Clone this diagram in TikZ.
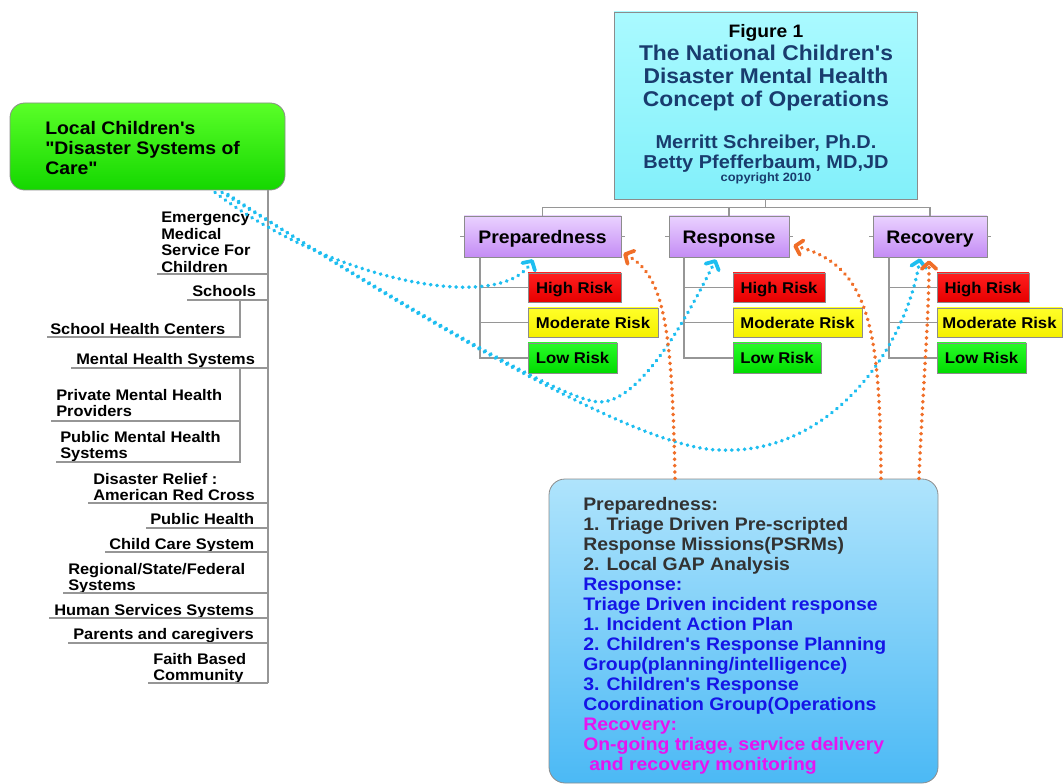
\documentclass[tikz,border=0pt]{standalone}
\usepackage{fontspec}
\newfontfamily\arl{Liberation Sans}[FakeStretch=1.07]
\usetikzlibrary{arrows.meta,calc}
\newcommand\pxu{0.75pt}
\newcommand\fnt[2]{\fontsize{#1}{#2}\arl\bfseries}
\definecolor{treegray}{RGB}{150,150,150}
\definecolor{boxgray}{RGB}{140,140,140}
\definecolor{greenTop}{RGB}{90,255,40}
\definecolor{greenBot}{RGB}{20,215,0}
\definecolor{cyanTop}{RGB}{170,250,255}
\definecolor{cyanBot}{RGB}{130,240,250}
\definecolor{navy}{RGB}{25,60,110}
\definecolor{purpTop}{RGB}{234,210,255}
\definecolor{purpBot}{RGB}{196,140,245}
\definecolor{redTop}{RGB}{255,30,30}
\definecolor{redBot}{RGB}{230,0,0}
\definecolor{yelTop}{RGB}{255,255,40}
\definecolor{yelBot}{RGB}{245,240,0}
\definecolor{lowTop}{RGB}{40,250,40}
\definecolor{lowBot}{RGB}{0,220,0}
\definecolor{skyTop}{RGB}{175,228,252}
\definecolor{skyBot}{RGB}{75,185,245}
\definecolor{pgray}{RGB}{50,50,50}
\definecolor{rblue}{RGB}{20,20,230}
\definecolor{rmag}{RGB}{230,20,240}
\definecolor{dotblue}{RGB}{30,190,240}
\definecolor{dotorange}{RGB}{240,110,40}
\begin{document}
\begin{tikzpicture}[x=0.75pt,y=-0.75pt,
  tree/.style={draw=treegray,line width=0.8pt},
  boxbase/.style={draw=boxgray,line width=0.6pt,inner sep=0pt,align=center},
  catbox/.style={boxbase,top color=purpTop,bottom color=purpBot,minimum height=41*\pxu,
     font=\fnt{13.6}{15},text height=9.8pt,text depth=0pt},
  riskbox/.style={boxbase,minimum height=29*\pxu,
     font=\fnt{11.7}{13},text height=8.4pt,text depth=0pt},
  highbox/.style={riskbox,top color=redTop,bottom color=redBot},
  modbox/.style={riskbox,top color=yelTop,bottom color=yelBot},
  lowbox/.style={riskbox,top color=lowTop,bottom color=lowBot,minimum height=30*\pxu},
  item/.style={anchor=north west,inner sep=0pt,align=left,font=\fnt{11.5}{12.4}},
  bluedot/.style={draw=dotblue,line width=2.8pt,line cap=round,dash pattern=on 0.2pt off 4.6pt,
     -{Straight Barb[length=5pt,width=11pt,round]}},
  orangedot/.style={draw=dotorange,line width=2.8pt,line cap=round,dash pattern=on 0.2pt off 4.6pt,
     -{Straight Barb[length=5pt,width=11pt,round]}},
  ttext/.style={anchor=north,inner sep=0pt,align=center}
]
\useasboundingbox (0,0) rectangle (1064,784);

% ---------- green box and left tree ----------
\node[draw=boxgray,line width=0.6pt,rounded corners=11pt,top color=greenTop,bottom color=greenBot,
  minimum width=275*\pxu,minimum height=87*\pxu] (green) at (147.5,146.5) {};
\node[anchor=north west,inner sep=0pt,align=left,font=\fnt{13.6}{15}] (greentext) at (45,121)
  {Local Children's\\"Disaster Systems of\\Care"};

\coordinate (spine) at (268,683);
\draw[tree] (green.south -| spine) -- (spine);

\node[item] (ems) at (161,212) {Emergency\\Medical\\Service For\\Children};
\node[item] (sch) at (192,285) {Schools};
\node[item] (shc) at (50,323) {School Health Centers};
\node[item] (mhs) at (76,353) {Mental Health Systems};
\node[item] (pmh) at (56,389) {Private Mental Health\\Providers};
\node[item] (pub) at (60,431) {Public Mental Health\\Systems};
\node[item] (drc) at (93,473) {Disaster Relief :\\American Red Cross};
\node[item] (phl) at (150,513) {Public Health};
\node[item] (ccs) at (109,538) {Child Care System};
\node[item] (rsf) at (68,563) {Regional/State/Federal\\Systems};
\node[item] (hss) at (54,604) {Human Services Systems};
\node[item] (pac) at (73,628) {Parents and caregivers};
\node[item] (fbc) at (153,653) {Faith Based\\Community};

\draw[tree] (157,274) -- (268,274);
\draw[tree] (187,300) -- (268,300);
\draw[tree] (240,300) -- (240,337) -- (47,337);
\draw[tree] (71,368) -- (268,368);
\draw[tree] (240,368) -- (240,462) -- (56,462);
\draw[tree] (51,421) -- (240,421);
\draw[tree] (88,503) -- (268,503);
\draw[tree] (146,528) -- (268,528);
\draw[tree] (105,552) -- (268,552);
\draw[tree] (63,593) -- (268,593);
\draw[tree] (49,618) -- (268,618);
\draw[tree] (68,643) -- (268,643);
\draw[tree] (148,683) -- (268,683);

% ---------- title box ----------
\node[draw=boxgray,line width=0.6pt,top color=cyanTop,bottom color=cyanBot,
  minimum width=303*\pxu,minimum height=187*\pxu] (title) at (765.5,105.5) {};
\node[ttext,font=\fnt{13.5}{14}] (fig) at (766,24) {Figure 1};
\node[ttext,text=navy,font=\fnt{16}{17.25}] (ttl) at (766,45)
  {The National Children's\\Disaster Mental Health\\Concept of Operations};
\node[ttext,text=navy,font=\fnt{14}{14.6}] (auth) at (766,135)
  {Merritt Schreiber, Ph.D.\\Betty Pfefferbaum, MD,JD};
\node[ttext,text=navy,font=\fnt{9}{10}] (copy) at (766,173) {copyright 2010};

% ---------- categories ----------
\node[catbox,minimum width=157*\pxu] (prep) at (542.5,236.5) {Preparedness};
\node[catbox,minimum width=120*\pxu] (resp) at (729,236.5) {Response};
\node[catbox,minimum width=114*\pxu] (rec) at (930,236.5) {Recovery};

\draw[tree] (title.south) -- ++(0,8) coordinate (tj);
\draw[tree] (tj) -| (prep.north);
\draw[tree] (tj) -| (resp.north);
\draw[tree] (tj) -| (rec.north);
\foreach \n in {prep,resp,rec}{
  \draw[tree] (\n.west) -- ++(-4,0);
  \draw[tree] (\n.east) -- ++(4,0);
}

% risk boxes
\node[highbox,minimum width=93*\pxu] (hp) at (574.5,287.5) {High Risk};
\node[modbox,minimum width=130*\pxu] (mp) at (593,322.5) {Moderate Risk};
\node[lowbox,minimum width=89*\pxu] (lp) at (572.5,358) {Low Risk};
\node[highbox,minimum width=92*\pxu] (hr) at (779,287.5) {High Risk};
\node[modbox,minimum width=129*\pxu] (mr) at (797.5,322.5) {Moderate Risk};
\node[lowbox,minimum width=88*\pxu] (lr) at (777,358) {Low Risk};
\node[highbox,minimum width=92*\pxu] (hc) at (983,287.5) {High Risk};
\node[modbox,minimum width=125*\pxu] (mc) at (999.5,322.5) {Moderate Risk};
\node[lowbox,minimum width=89*\pxu] (lc) at (981.5,358) {Low Risk};

\coordinate (pv) at (480,0);
\coordinate (rv) at (684,0);
\coordinate (cv) at (889,0);
\draw[tree] (prep.south -| pv) -- (lp.west -| pv) -- (lp.west);
\draw[tree] (hp.west -| pv) -- (hp.west);
\draw[tree] (mp.west -| pv) -- (mp.west);
\draw[tree] (resp.south -| rv) -- (lr.west -| rv) -- (lr.west);
\draw[tree] (hr.west -| rv) -- (hr.west);
\draw[tree] (mr.west -| rv) -- (mr.west);
\draw[tree] (rec.south -| cv) -- (lc.west -| cv) -- (lc.west);
\draw[tree] (hc.west -| cv) -- (hc.west);
\draw[tree] (mc.west -| cv) -- (mc.west);

% ---------- bottom box ----------
\node[draw=boxgray,line width=0.6pt,rounded corners=12pt,top color=skyTop,bottom color=skyBot,
  minimum width=389*\pxu,minimum height=304*\pxu] (bottom) at (743.5,631) {};
\node[anchor=north west,inner sep=0pt,align=left,font=\fnt{13.6}{15}] (btext) at (583,497) {%
\textcolor{pgray}{Preparedness:}\\
\textcolor{pgray}{1. Triage Driven Pre-scripted}\\
\textcolor{pgray}{Response Missions(PSRMs)}\\
\textcolor{pgray}{2. Local GAP Analysis}\\
\textcolor{rblue}{Response:}\\
\textcolor{rblue}{Triage Driven incident response}\\
\textcolor{rblue}{1. Incident Action Plan}\\
\textcolor{rblue}{2. Children's Response Planning}\\
\textcolor{rblue}{Group(planning/intelligence)}\\
\textcolor{rblue}{3. Children's Response}\\
\textcolor{rblue}{Coordination Group(Operations}\\
\textcolor{rmag}{Recovery:}\\
\textcolor{rmag}{On-going triage, service delivery}\\
\hspace*{4.5pt}\textcolor{rmag}{and recovery monitoring}};

% ---------- dotted connectors ----------
\draw[bluedot] ($(green.south)+(67.5,2)$) .. controls (330,280) and (500,315) .. ($(prep.south)+(-9.5,2)$);
\draw[bluedot] ($(green.south)+(74.5,2)$) .. controls (380,290) and (560,402) .. (600,402)
   .. controls (645,402) and (697,297) .. ($(resp.south)+(-13,2)$);
\draw[bluedot] ($(green.south)+(80.5,4)$) .. controls (420,320) and (640,450) .. (720,450)
   .. controls (830,455) and (905,350) .. ($(rec.south)+(-10,1)$);

\draw[orangedot] ($(bottom.north)+(-68.5,0)$) .. controls (672,330) and (665,275) .. ($(prep.south east)+(2,-4)$);
\draw[orangedot] ($(bottom.north)+(137.5,0)$) .. controls (880,330) and (870,265) .. ($(resp.east)+(4,9)$);
\draw[orangedot] ($(bottom.north)+(175.5,0)$) .. controls (922,400) and (929,320) .. ($(rec.south)+(-1,3)$);
\end{tikzpicture}
\end{document}
